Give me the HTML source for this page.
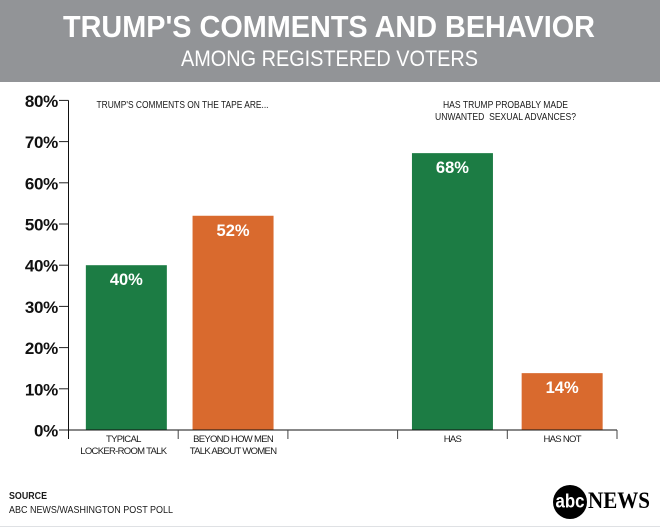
<!DOCTYPE html>
<html>
<head>
<meta charset="utf-8">
<title>Trump's Comments and Behavior</title>
<style>
html,body{margin:0;padding:0;background:#fff;}
svg{display:block;}
text{font-family:"Liberation Sans",sans-serif;white-space:pre;}
</style>
</head>
<body>
<svg id="chart" width="660" height="527" viewBox="0 0 660 527" xmlns="http://www.w3.org/2000/svg">
  <rect width="660" height="527" fill="#ffffff"/>
  <rect width="660" height="82" fill="#929497"/>
  <text x="63" y="37" font-size="30.5" font-weight="700" fill="#fff" textLength="532" lengthAdjust="spacingAndGlyphs">TRUMP'S COMMENTS AND BEHAVIOR</text>
  <text x="181" y="66" font-size="22" fill="#fff" textLength="297" lengthAdjust="spacingAndGlyphs">AMONG REGISTERED VOTERS</text>
  <text x="96.5" y="108" font-size="10" fill="#1a1a1a" textLength="172" lengthAdjust="spacingAndGlyphs">TRUMP'S COMMENTS ON THE TAPE ARE...</text>
  <text x="443" y="108" font-size="10" fill="#1a1a1a" textLength="125" lengthAdjust="spacingAndGlyphs">HAS TRUMP PROBABLY MADE</text>
  <text x="435" y="120" font-size="10" fill="#1a1a1a" textLength="141" lengthAdjust="spacingAndGlyphs">UNWANTED  SEXUAL ADVANCES?</text>
  <g id="marks"></g>
  <text x="9" y="499" font-size="10" font-weight="700" fill="#1a1a1a" textLength="38" lengthAdjust="spacingAndGlyphs">SOURCE</text>
  <text x="9" y="513" font-size="10" fill="#1a1a1a" textLength="164" lengthAdjust="spacingAndGlyphs">ABC NEWS/WASHINGTON POST POLL</text>
  <g>
    <circle cx="570" cy="502" r="17" fill="#000"/>
    <text x="555.5" y="507.5" font-size="19" font-weight="700" fill="#fff" textLength="29" lengthAdjust="spacingAndGlyphs">abc</text>
    <text x="588" y="508" font-size="23" font-weight="700" style="font-family:'Liberation Serif',serif" fill="#000" textLength="62" lengthAdjust="spacingAndGlyphs">NEWS</text>
  </g>
  <rect x="0" y="526" width="660" height="1" fill="#dfe1e4"/>
</svg>
<script>
var categories = [["TYPICAL","LOCKER-ROOM TALK"],["BEYOND HOW MEN","TALK ABOUT WOMEN"],null,["HAS"],["HAS NOT"]];
var seriesValues = [40, 52, null, 67.2, 13.8];
var printedValues = ["40%", "52%", null, "68%", "14%"];
var barKinds = ["green", "orange", null, "green", "orange"];
var yTicks = [0, 10, 20, 30, 40, 50, 60, 70, 80];
var yTickLabels = ["0%", "10%", "20%", "30%", "40%", "50%", "60%", "70%", "80%"];

var NS = "http://www.w3.org/2000/svg";
var marks = document.getElementById("marks");
var COLORS = {green: "#1c7c44", orange: "#d96a2e"};
var PLOT = {left: 68.5, right: 617, bottom: 430, unit: 4.12};

function yScale(v) { return PLOT.bottom - v * PLOT.unit; }
function bandStart(i) { return PLOT.left + i * (PLOT.right - PLOT.left) / categories.length; }
function bandCenter(i) { return (bandStart(i) + bandStart(i + 1)) / 2; }

function make(tag, attrs, text) {
  var el = document.createElementNS(NS, tag);
  for (var k in attrs) el.setAttribute(k, attrs[k]);
  if (text !== undefined) el.textContent = text;
  marks.appendChild(el);
  return el;
}

var BAR_W = 81;
seriesValues.forEach(function (v, i) {
  if (v === null) return;
  var cx = bandCenter(i) + (i === 0 ? 3 : 0);
  var top = yScale(v);
  var bar = make("rect", {x: cx - BAR_W / 2, y: top, width: BAR_W, height: PLOT.bottom - top, fill: COLORS[barKinds[i]]});
  
  
  var lab = make("text", {x: cx, y: top + 20, "font-size": 16.5, "font-weight": 700, fill: "#fff", "text-anchor": "middle"}, printedValues[i]);
  
  
});

yTicks.forEach(function (t, i) {
  var y = yScale(t);
  var tick = make("line", {x1: 59, x2: 68.5, y1: y, y2: y, stroke: "#222", "stroke-width": 1});
  
  
  var lab = make("text", {x: 58, y: y + 6.5, "font-size": 17, "font-weight": 700, fill: "#111", "text-anchor": "end", "letter-spacing": "-0.3"}, yTickLabels[i]);
  
  
});

var yAxis = make("line", {x1: PLOT.left, x2: PLOT.left, y1: yScale(80), y2: 439, stroke: "#111", "stroke-width": 1});



var xAxis = make("line", {x1: PLOT.left, x2: PLOT.right, y1: PLOT.bottom, y2: PLOT.bottom, stroke: "#111", "stroke-width": 1});



categories.forEach(function (lines, i) {
  var tx = bandStart(i + 1);
  var tick = make("line", {x1: tx, x2: tx, y1: PLOT.bottom, y2: 439, stroke: "#444", "stroke-width": 1});
  
  
  if (!lines) return;
  lines.forEach(function (line, j) {
    var lab = make("text", {x: bandCenter(i), y: 442 + j * 12, "font-size": 9.5, fill: "#1a1a1a", "text-anchor": "middle", "letter-spacing": "-0.7"}, line);
    
    
  });
});
</script>
</body>
</html>
